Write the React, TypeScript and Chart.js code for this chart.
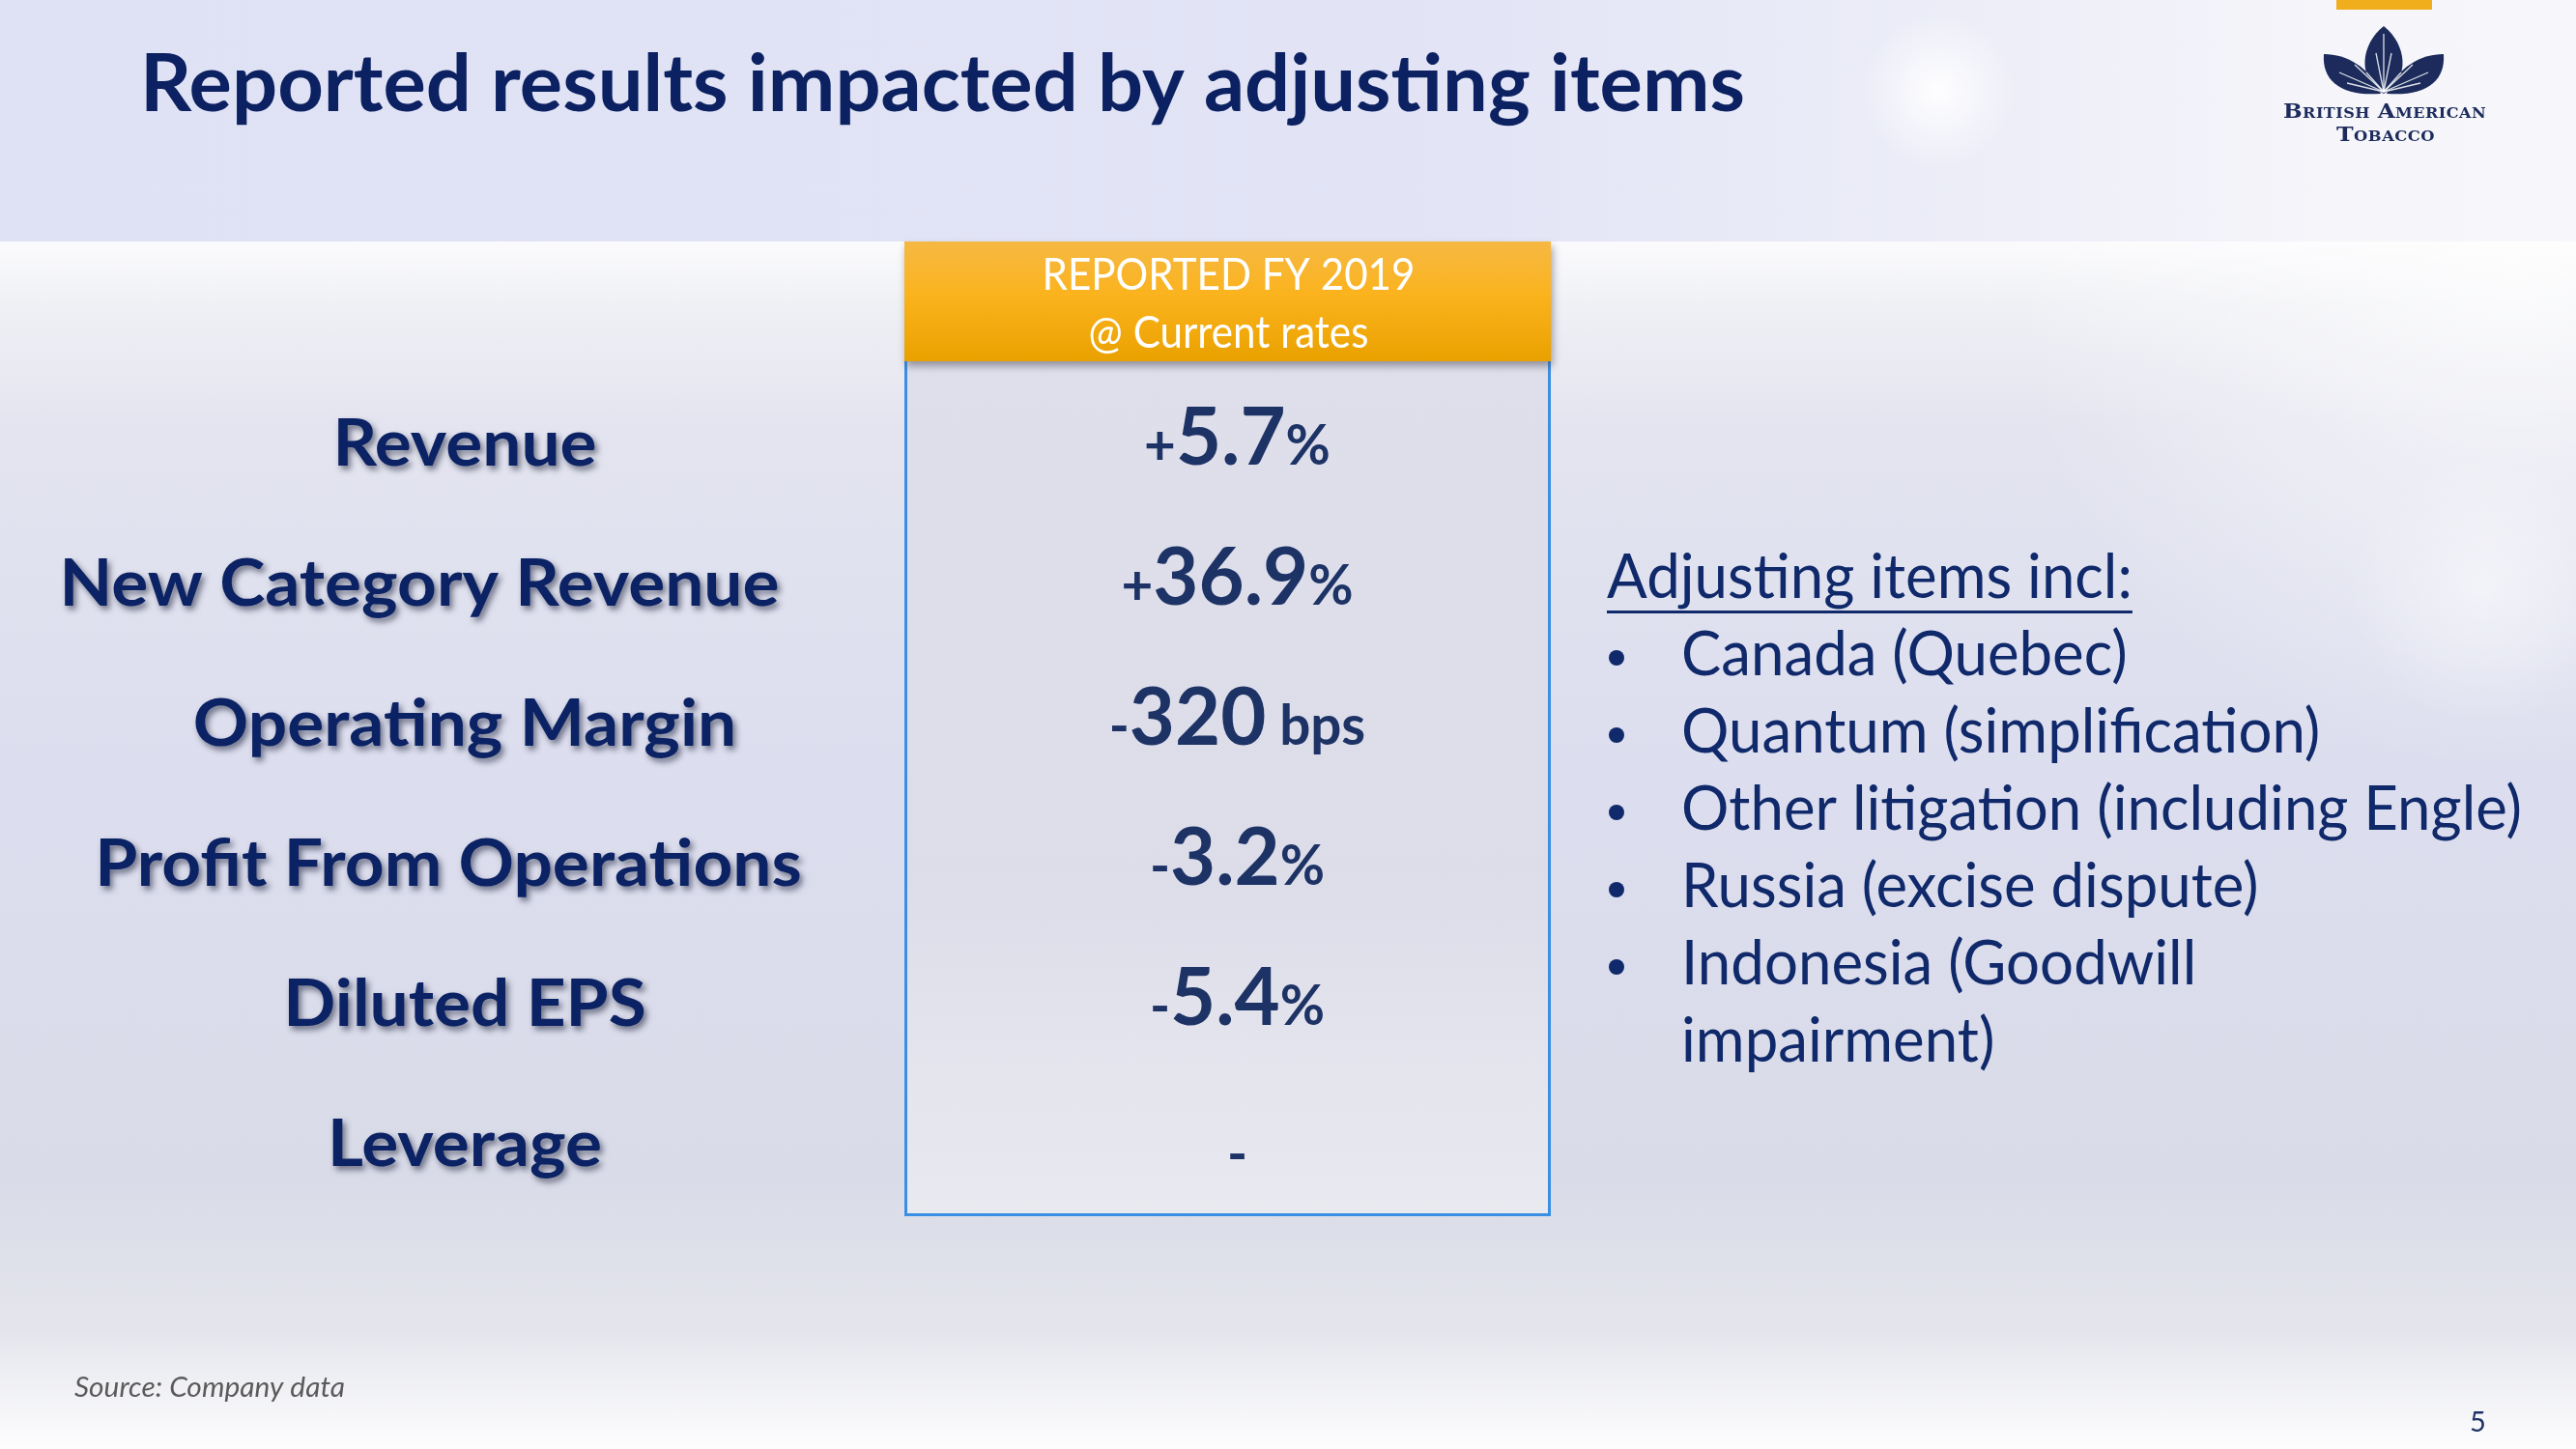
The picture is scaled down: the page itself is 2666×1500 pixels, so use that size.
import React, { useEffect, useRef } from "react";
import { Chart, registerables } from "chart.js";

Chart.register(...registerables);

// ---------- data ----------
const slideTitle = "Reported results impacted by adjusting items";
const metricLabels = [
  "Revenue",
  "New Category Revenue",
  "Operating Margin",
  "Profit From Operations",
  "Diluted EPS",
  "Leverage",
];
const reportedValues: (number | null)[] = [5.7, 36.9, -320, -3.2, -5.4, null];
const valueUnits = ["%", "%", " bps", "%", "%", ""];
const columnHeader = ["REPORTED FY 2019", "@ Current rates"];
const adjustingHeading = "Adjusting items incl:";
const adjustingItems: string[][] = [
  ["Canada (Quebec)"],
  ["Quantum (simplification)"],
  ["Other litigation (including Engle)"],
  ["Russia (excise dispute)"],
  ["Indonesia (Goodwill", "impairment)"],
];
const sourceNote = "Source: Company data";
const pageNumber = "5";
const logoWords = ["British American", "Tobacco"];

// ---------- layout / style ----------
const W = 2666;
const H = 1500;
const BOX = { left: 936, right: 1605, headerTop: 250, headerBottom: 374, bottom: 1259 };
const LABEL_CENTER_X = [481, 434, 481, 464, 481, 481];
const SANS = "Lato, 'Open Sans', sans-serif";
const SERIF = "'DejaVu Serif', 'Liberation Serif', serif";
const TITLE_COLOR = "#0c2161";
const LABEL_COLOR = "#0b2264";
const VALUE_COLOR = "#1e3365";
const LIST_COLOR = "#10296a";
const LOGO_COLOR = "#1c2b5b";

type Ctx = CanvasRenderingContext2D;

function measure(ctx: Ctx, text: string, font: string) {
  ctx.font = font;
  return ctx.measureText(text).width;
}

function fitScale(ctx: Ctx, text: string, font: string, target: number) {
  const w = measure(ctx, text, font);
  return w > 0 ? target / w : 1;
}

function drawText(
  ctx: Ctx,
  text: string,
  x: number,
  y: number,
  font: string,
  color: string,
  sx: number,
  align: CanvasTextAlign = "left"
) {
  ctx.save();
  ctx.font = font;
  ctx.fillStyle = color;
  ctx.textAlign = align;
  ctx.textBaseline = "alphabetic";
  ctx.translate(x, y);
  ctx.scale(sx, 1);
  ctx.fillText(text, 0, 0);
  ctx.restore();
}

function drawBackground(ctx: Ctx) {
  const g = ctx.createLinearGradient(0, 250, 0, H);
  g.addColorStop(0, "#fbfbfd");
  g.addColorStop(0.05, "#f0f1f5");
  g.addColorStop(0.15, "#e3e4ef");
  g.addColorStop(0.45, "#dcdeef");
  g.addColorStop(0.78, "#d9dbe8");
  g.addColorStop(0.9, "#e4e5ec");
  g.addColorStop(1, "#fdfdfe");
  ctx.fillStyle = g;
  ctx.fillRect(0, 250, W, H - 250);

  const rg = ctx.createRadialGradient(2600, 280, 0, 2600, 280, 520);
  rg.addColorStop(0, "rgba(255,255,255,0.7)");
  rg.addColorStop(1, "rgba(255,255,255,0)");
  ctx.fillStyle = rg;
  ctx.fillRect(1900, 250, W - 1900, 700);

  const rg2 = ctx.createRadialGradient(2570, 610, 0, 2570, 610, 140);
  rg2.addColorStop(0, "rgba(255,255,255,0.45)");
  rg2.addColorStop(1, "rgba(255,255,255,0)");
  ctx.fillStyle = rg2;
  ctx.fillRect(2400, 450, 266, 320);

  const t = ctx.createLinearGradient(0, 0, W, 0);
  t.addColorStop(0, "#dfe1f4");
  t.addColorStop(0.55, "#e2e4f6");
  t.addColorStop(0.8, "#eeeff8");
  t.addColorStop(0.9, "#f5f5fa");
  t.addColorStop(1, "#f7f7fb");
  ctx.fillStyle = t;
  ctx.fillRect(0, 0, W, 250);

  const glow = ctx.createRadialGradient(2006, 94, 0, 2006, 94, 80);
  glow.addColorStop(0, "rgba(255,255,255,0.95)");
  glow.addColorStop(1, "rgba(255,255,255,0)");
  ctx.fillStyle = glow;
  ctx.fillRect(1920, 10, 172, 170);

  ctx.fillStyle = "#f0ae1c";
  ctx.fillRect(2418, 0, 99, 10);
}

function drawLogo(ctx: Ctx) {
  ctx.save();
  ctx.fillStyle = LOGO_COLOR;
  const cx = 2467;
  const base = 97;
  ctx.beginPath();
  ctx.moveTo(cx, base);
  ctx.bezierCurveTo(cx - 28, 82, cx - 24, 46, cx, 27);
  ctx.bezierCurveTo(cx + 24, 46, cx + 28, 82, cx, base);
  ctx.fill();
  for (const s of [-1, 1]) {
    ctx.beginPath();
    ctx.moveTo(cx + s * 3, base);
    ctx.bezierCurveTo(cx + s * 14, 70, cx + s * 38, 56, cx + s * 62, 56);
    ctx.bezierCurveTo(cx + s * 64, 84, cx + s * 44, 100, cx + s * 3, base);
    ctx.fill();
  }
  ctx.strokeStyle = "rgba(255,255,255,0.85)";
  ctx.lineWidth = 1.3;
  const veins = [
    [0, -62], [-8, -42], [8, -42], [-30, -30], [30, -30],
    [-46, -22], [46, -22], [-38, -11], [38, -11], [-18, -22], [18, -22],
  ];
  for (const [dx, dy] of veins) {
    ctx.beginPath();
    ctx.moveTo(cx, base - 2);
    ctx.lineTo(cx + dx, base + dy);
    ctx.stroke();
  }
  ctx.restore();

  const drawSmallCaps = (text: string, cx2: number, baseline: number, targetW: number) => {
    const big = `700 21px ${SERIF}`;
    const small = `700 14.5px ${SERIF}`;
    const parts: { ch: string; font: string; w: number }[] = [];
    let total = 0;
    for (const ch of text) {
      const isBig = ch !== ch.toLowerCase();
      const font = isBig ? big : small;
      const c = ch.toUpperCase();
      const w = measure(ctx, c, font) + (c === " " ? 2 : 0.4);
      parts.push({ ch: c, font, w });
      total += w;
    }
    const sx = targetW / total;
    ctx.save();
    ctx.fillStyle = LOGO_COLOR;
    ctx.textBaseline = "alphabetic";
    ctx.textAlign = "left";
    ctx.translate(cx2 - targetW / 2, baseline);
    ctx.scale(sx, 1);
    let x = 0;
    for (const p of parts) {
      ctx.font = p.font;
      ctx.fillText(p.ch, x, 0);
      x += p.w;
    }
    ctx.restore();
  };
  drawSmallCaps(logoWords[0], 2468, 122, 210);
  drawSmallCaps(logoWords[1], 2469, 146, 102);
}

function drawTable(ctx: Ctx) {
  const bg = ctx.createLinearGradient(0, BOX.headerBottom, 0, BOX.bottom);
  bg.addColorStop(0, "#dedfeb");
  bg.addColorStop(0.6, "#dcdde9");
  bg.addColorStop(1, "#e9eaf0");
  ctx.fillStyle = bg;
  ctx.fillRect(BOX.left, BOX.headerBottom, BOX.right - BOX.left, BOX.bottom - BOX.headerBottom);

  ctx.save();
  ctx.strokeStyle = "#3b8fe3";
  ctx.lineWidth = 3;
  ctx.beginPath();
  ctx.moveTo(BOX.left + 1.5, BOX.headerBottom);
  ctx.lineTo(BOX.left + 1.5, BOX.bottom - 1.5);
  ctx.lineTo(BOX.right - 1.5, BOX.bottom - 1.5);
  ctx.lineTo(BOX.right - 1.5, BOX.headerBottom);
  ctx.stroke();
  ctx.restore();

  ctx.save();
  ctx.shadowColor = "rgba(50,50,60,0.45)";
  ctx.shadowBlur = 8;
  ctx.shadowOffsetX = 2;
  ctx.shadowOffsetY = 5;
  const hg = ctx.createLinearGradient(0, BOX.headerTop, 0, BOX.headerBottom);
  hg.addColorStop(0, "#f5b843");
  hg.addColorStop(0.45, "#fbb31d");
  hg.addColorStop(1, "#e9a100");
  ctx.fillStyle = hg;
  ctx.fillRect(BOX.left, BOX.headerTop, BOX.right - BOX.left, BOX.headerBottom - BOX.headerTop);
  ctx.restore();

  const hf = `400 46px ${SANS}`;
  const hsx = fitScale(ctx, columnHeader[0], hf, 386);
  const hcx = (BOX.left + BOX.right) / 2 + 1;
  drawText(ctx, columnHeader[0], hcx, 300, hf, "#ffffff", hsx, "center");
  drawText(ctx, columnHeader[1], hcx, 360, hf, "#ffffff", hsx, "center");
}

function drawRightText(ctx: Ctx) {
  const f = `400 64px ${SANS}`;
  const sx = fitScale(ctx, adjustingItems[2][0], f, 870);
  const x0 = 1663;
  const textX = 1740;
  const base0 = 619;
  const step = 80;
  drawText(ctx, adjustingHeading, x0, base0, f, LIST_COLOR, sx);
  const hw = measure(ctx, adjustingHeading, f) * sx;
  ctx.fillStyle = LIST_COLOR;
  ctx.fillRect(x0, base0 + 13, hw, 3);
  let line = 1;
  for (const item of adjustingItems) {
    const y = base0 + step * line;
    ctx.beginPath();
    ctx.arc(1673, y - 18, 8, 0, Math.PI * 2);
    ctx.fillStyle = LIST_COLOR;
    ctx.fill();
    for (const part of item) {
      drawText(ctx, part, textX, base0 + step * line, f, LIST_COLOR, sx);
      line++;
    }
  }
}

const slidePlugin = {
  id: "slide",
  beforeDraw(chart: Chart) {
    const ctx = chart.ctx;
    ctx.save();
    drawBackground(ctx);
    drawLogo(ctx);
    const tf = `700 82px ${SANS}`;
    drawText(ctx, slideTitle, 145, 115, tf, TITLE_COLOR, fitScale(ctx, slideTitle, tf, 1661));
    drawTable(ctx);
    drawRightText(ctx);
    const sf = `italic 400 28px ${SANS}`;
    drawText(ctx, sourceNote, 77, 1446, sf, "#5a5a5a", fitScale(ctx, sourceNote, sf, 280));
    drawText(ctx, pageNumber, 2556, 1482, `400 29px ${SANS}`, VALUE_COLOR, 1);
    ctx.restore();
  },
  afterDraw(chart: Chart) {
    const ctx = chart.ctx;
    const yScale = chart.scales.y;
    const area = chart.chartArea;

    const lf = `700 66px ${SANS}`;
    const lsx = fitScale(ctx, metricLabels[1], lf, 745);
    metricLabels.forEach((label, i) => {
      const y = yScale.getPixelForValue(i);
      ctx.save();
      ctx.shadowColor = "rgba(15,20,45,0.55)";
      ctx.shadowBlur = 6;
      ctx.shadowOffsetX = 3;
      ctx.shadowOffsetY = 4;
      drawText(ctx, label, LABEL_CENTER_X[i], y + 23, lf, LABEL_COLOR, lsx, "center");
      ctx.restore();
    });

    const bigF = `700 82px ${SANS}`;
    const smallF = `700 57px ${SANS}`;
    const partsOf = (v: number | null, unit: string) => {
      if (v === null) return [{ t: "-", f: smallF }];
      return [
        { t: v > 0 ? "+" : "-", f: smallF },
        { t: String(Math.abs(v)), f: bigF },
        { t: unit, f: smallF },
      ];
    };
    const widthOf = (parts: { t: string; f: string }[]) =>
      parts.reduce((s, p) => s + measure(ctx, p.t, p.f), 0);
    const vsx = 240 / widthOf(partsOf(36.9, "%"));
    const cx = (area.left + area.right) / 2 + 10;
    reportedValues.forEach((v, i) => {
      const y = yScale.getPixelForValue(i);
      const parts = partsOf(v, valueUnits[i]);
      const total = widthOf(parts) * vsx;
      const baseline = v === null ? y + 30 : y + 22;
      ctx.save();
      ctx.fillStyle = VALUE_COLOR;
      ctx.textBaseline = "alphabetic";
      ctx.textAlign = "left";
      ctx.translate(cx - total / 2, baseline);
      ctx.scale(vsx, 1);
      let x = 0;
      for (const p of parts) {
        ctx.font = p.f;
        ctx.fillText(p.t, x, 0);
        x += ctx.measureText(p.t).width;
      }
      ctx.restore();
    });
  },
};

export default function App() {
  const canvasRef = useRef<HTMLCanvasElement | null>(null);

  useEffect(() => {
    const canvas = canvasRef.current;
    if (!canvas) return;
    const chart = new Chart(canvas, {
      type: "bar",
      data: {
        labels: metricLabels,
        datasets: [
          {
            label: "Reported FY 2019",
            data: reportedValues as any,
            backgroundColor: "rgba(0,0,0,0)",
            borderWidth: 0,
          },
        ],
      },
      options: {
        indexAxis: "y",
        animation: false,
        responsive: false,
        maintainAspectRatio: false,
        devicePixelRatio: 1,
        layout: {
          padding: { left: BOX.left, right: W - BOX.right, top: 386, bottom: 244 },
        },
        scales: {
          x: { display: false },
          y: { type: "category", display: false, offset: true },
        },
        plugins: {
          legend: { display: false },
          tooltip: { enabled: false },
          title: { display: false },
        },
        events: [],
      },
      plugins: [slidePlugin as any],
    });
    let alive = true;
    const fonts = [`700 80px Lato`, `400 60px Lato`, `italic 400 28px Lato`, `700 22px "DejaVu Serif"`];
    Promise.all(fonts.map((f) => document.fonts.load(f)))
      .catch(() => undefined)
      .then(() => {
        if (alive) chart.draw();
      });
    return () => {
      alive = false;
      chart.destroy();
    };
  }, []);

  return (
    <div style={{ position: "fixed", left: 0, top: 0, width: W, height: H, overflow: "hidden" }}>
      <canvas ref={canvasRef} width={W} height={H} style={{ display: "block", width: W, height: H }} />
    </div>
  );
}
